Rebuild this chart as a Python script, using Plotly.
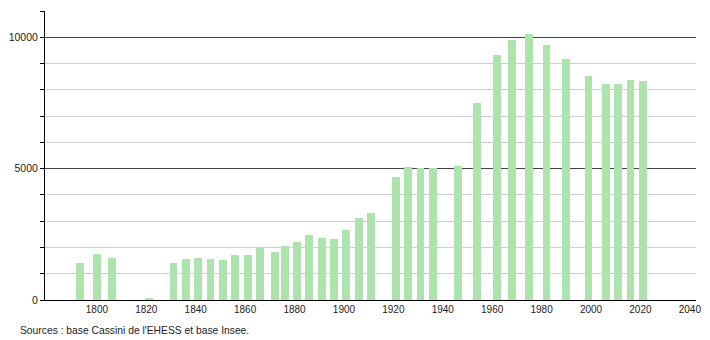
import plotly.graph_objects as go

years = [1793, 1800, 1806, 1821, 1831, 1836, 1841, 1846, 1851, 1856, 1861, 1866,
         1872, 1876, 1881, 1886, 1891, 1896, 1901, 1906, 1911, 1921, 1926, 1931,
         1936, 1946, 1954, 1962, 1968, 1975, 1982, 1990, 1999, 2006, 2011, 2016, 2021]
population = [1420, 1750, 1600, 70, 1410, 1560, 1600, 1560, 1530, 1710, 1710, 1990,
              1825, 2050, 2220, 2470, 2345, 2320, 2660, 3120, 3320, 4690, 5060, 5030,
              5010, 5095, 7480, 9316, 9886, 10114, 9696, 9190, 8517, 8239, 8226, 8391, 8338]
x_ticks = [1800, 1820, 1840, 1860, 1880, 1900, 1920, 1940, 1960, 1980, 2000, 2020, 2040]
y_ticks = [0, 5000, 10000]
source_text = "Sources : base Cassini de l'EHESS et base Insee."

fig = go.Figure()
fig.add_trace(go.Bar(
    x=years, y=population, width=3.2,
    marker=dict(color="#ade3ad", line=dict(width=0)),
    hoverinfo="x+y",
))

fig.update_layout(
    width=710, height=340,
    margin=dict(l=43, r=9, t=11, b=40),
    paper_bgcolor="white", plot_bgcolor="white",
    font=dict(family="Liberation Sans, Arial, sans-serif", size=11, color="#222"),
    showlegend=False,
    bargap=0,
    xaxis=dict(
        range=[1779, 2042.5],
        tickvals=x_ticks, ticktext=[str(v) for v in x_ticks],
        tickfont=dict(family="Liberation Sans Narrow, Liberation Sans, Arial, sans-serif", size=10),
        showgrid=False, zeroline=False,
        showline=True, linecolor="black", linewidth=1,
        ticks="", ticklen=0,
        fixedrange=True,
    ),
    yaxis=dict(
        range=[0, 11000],
        tickvals=y_ticks, ticktext=[str(v) for v in y_ticks],
        tickfont=dict(size=10.5),
        showgrid=True, gridcolor="#444", gridwidth=1,
        zeroline=False,
        showline=True, linecolor="black", linewidth=1,
        ticks="outside", ticklen=4, tickcolor="black",
        minor=dict(dtick=1000, tick0=0, showgrid=True, gridcolor="#cfcfcf",
                   gridwidth=1, ticks="outside", ticklen=4, tickcolor="black"),
        fixedrange=True,
    ),
)

fig.add_annotation(
    text=source_text, xref="paper", yref="paper",
    x=-27/658, y=-30/289, xanchor="left", yanchor="middle",
    showarrow=False, font=dict(size=10.3, color="#222"),
)

fig.write_html("out.html")
